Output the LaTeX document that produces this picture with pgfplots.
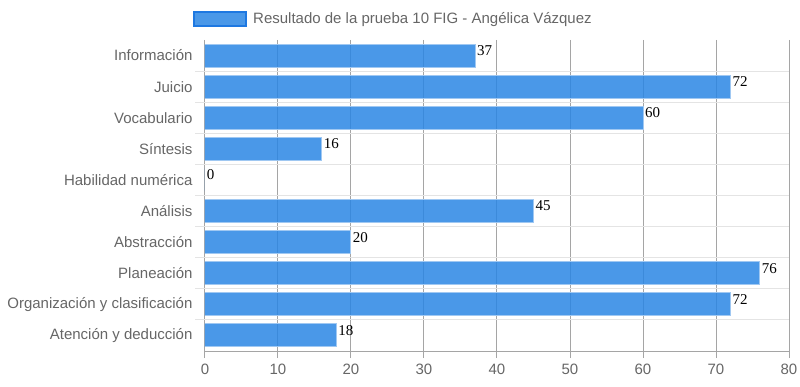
\documentclass[border=0pt]{standalone}
\usepackage{fontspec}
\setmainfont{Liberation Sans}
\newfontfamily\seriffont{Liberation Serif}
\usepackage{pgfplots}
\pgfplotsset{compat=1.18}
\definecolor{barfill}{RGB}{42,134,228}
\definecolor{barline}{RGB}{160,200,242}
\definecolor{legline}{RGB}{30,120,225}
\definecolor{gridc}{RGB}{165,165,165}
\definecolor{hgrid}{RGB}{228,228,228}
\definecolor{txt}{RGB}{102,102,102}
\begin{document}
\begin{tikzpicture}
\begin{axis}[
  name=ax,
  width=584pt, height=311pt, scale only axis,
  xbar, bar width=23pt,
  xmin=0, xmax=80, ymin=-0.5, ymax=9.5, y dir=reverse,
  axis line style={draw=none},
  xtick={0,10,...,80},
  ytick={0,...,9},
  yticklabels={Información,Juicio,Vocabulario,Síntesis,Habilidad numérica,Análisis,Abstracción,Planeación,Organización y clasificación,Atención y deducción},
  minor ytick={0.5,1.5,...,8.5},
  extra y ticks={9.5}, extra y tick labels={},
  extra y tick style={grid=major, major grid style={gridc, line width=1pt}, major tick length=0pt},
  tick align=outside, xtick pos=bottom, ytick pos=left,
  xmajorgrids, major grid style={gridc, line width=1pt},
  yminorgrids, minor grid style={hgrid, line width=1pt},
  major tick length=7pt, minor tick length=10pt,
  x tick style={gridc, line width=1pt},
  y tick style={draw=none},
  minor y tick style={draw=hgrid, line width=1pt},
  ticklabel style={font=\fontsize{15}{18}\selectfont, text=txt},
  yticklabel style={xshift=-2pt},
  xticklabel style={yshift=-2pt},
  /pgf/number format/assume math mode=true,
  nodes near coords,
  nodes near coords style={font=\seriffont\fontsize{15}{15}\selectfont, text=black, anchor=west, inner sep=1.5pt, yshift=5pt},
  legend style={at={(rel axis cs:0,1)}, anchor=west, xshift=-12pt, yshift=21pt, draw=none, fill=none, inner sep=0pt,
    font=\fontsize{15}{18}\selectfont, text=txt, column sep=6pt, nodes={inner sep=0pt}},
  legend cell align=left,
]
\addplot[fill=barfill, fill opacity=0.85, draw=barline, line width=1pt, text opacity=1,
  legend image code/.code={\draw[fill=barfill, fill opacity=0.85, draw=legline, line width=2pt] (1pt,-7pt) rectangle (53pt,7pt);}]
coordinates {(37,0) (72,1) (60,2) (16,3) (0,4) (45,5) (20,6) (76,7) (72,8) (18,9)};
\addlegendentry{Resultado de la prueba 10 FIG - Angélica Vázquez}
\end{axis}
\pgfresetboundingbox
\path[use as bounding box] (ax.south west) ++(-205pt,-35pt) rectangle ++(800pt,386pt);
\end{tikzpicture}
\end{document}
